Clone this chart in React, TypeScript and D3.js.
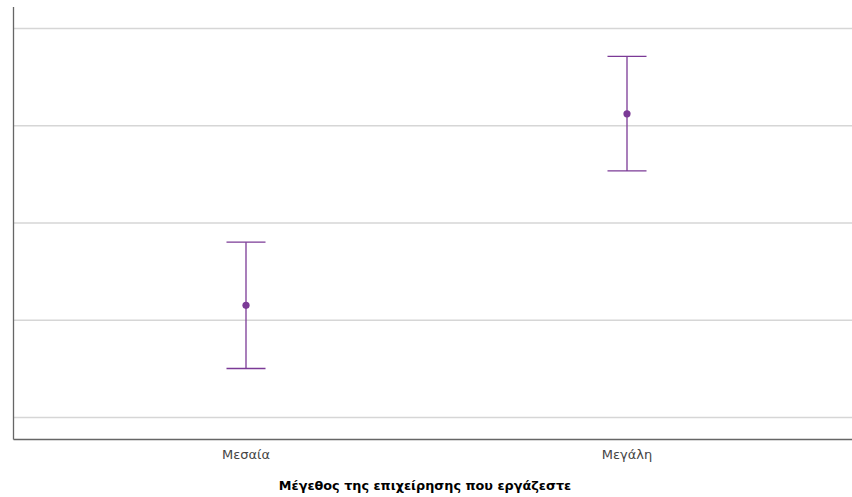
import React from "react";
import * as d3 from "d3";

const categories = ["Μεσαία", "Μεγάλη"];
const means = [2.155, 4.124];
const lower = [1.505, 3.536];
const upper = [2.804, 4.714];
const gridTicks = [1, 2, 3, 4, 5];
const xTitle = "Μέγεθος της επιχείρησης που εργάζεστε";

const W = 852;
const H = 497;
const left = 13.5;
const top = 7;
const bottom = 439.5;
const right = 852;

export default function App() {
  const y = d3.scaleLinear().domain([0.775, 5.222]).range([bottom, top]);
  const x = d3.scalePoint<string>().domain(categories).range([246, 627]);
  const purple = "#7b3a96";
  const font = "'DejaVu Sans', sans-serif";
  return (
    <svg width={W} height={H} style={{ position: "absolute", left: 0, top: 0, background: "#fff" }}>
      {gridTicks.map((t) => (
        <line key={t} x1={left} x2={right} y1={y(t)} y2={y(t)} stroke="#d6d6d6" strokeWidth={1.5} />
      ))}
      <line x1={left} x2={left} y1={top} y2={bottom} stroke="#666" strokeWidth={1.3} />
      <line x1={left} x2={right} y1={bottom} y2={bottom} stroke="#666" strokeWidth={1.3} />
      {categories.map((c, i) => {
        const cx = x(c)!;
        return (
          <g key={c}>
            <line x1={cx} x2={cx} y1={y(upper[i])} y2={y(lower[i])} stroke={purple} strokeWidth={1.3} />
            <line x1={cx - 19.5} x2={cx + 19.5} y1={y(upper[i])} y2={y(upper[i])} stroke={purple} strokeWidth={1.3} />
            <line x1={cx - 19.5} x2={cx + 19.5} y1={y(lower[i])} y2={y(lower[i])} stroke={purple} strokeWidth={1.3} />
            <circle cx={cx} cy={y(means[i])} r={3.6} fill={purple} />
            <text x={cx} y={459} textAnchor="middle" fontFamily={font} fontSize={13} fill="#444">
              {c}
            </text>
          </g>
        );
      })}
      <text x={425} y={490} textAnchor="middle" fontFamily={font} fontSize={12.8} fontWeight="bold" fill="#000">
        {xTitle}
      </text>
    </svg>
  );
}
